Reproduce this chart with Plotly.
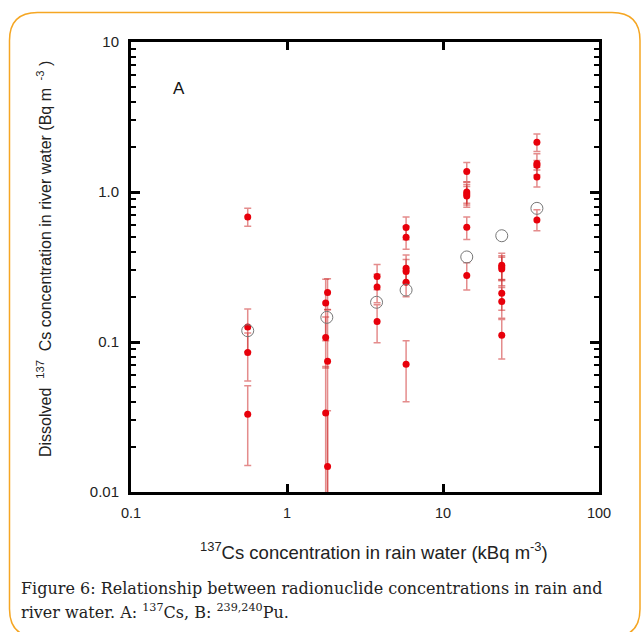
import plotly.graph_objects as go

# ---- data ----
rain_cs = [0.56, 0.56, 0.56, 0.56,
           1.82, 1.77, 1.77, 1.82, 1.77, 1.82,
           3.78, 3.78, 3.78,
           5.8, 5.8, 5.8, 5.8, 5.8, 5.8,
           14.2, 14.2, 14.2, 14.2, 14.2, 14.2,
           23.8, 23.8, 23.8, 23.8, 23.8, 23.8,
           40.0, 40.0, 40.0, 40.0, 40.0]
river_cs = [0.68, 0.126, 0.085, 0.033,
            0.214, 0.182, 0.107, 0.0744, 0.0336, 0.0148,
            0.273, 0.233, 0.137,
            0.58, 0.50, 0.31, 0.295, 0.25, 0.071,
            1.37, 1.0, 0.97, 0.94, 0.582, 0.278,
            0.325, 0.316, 0.307, 0.211, 0.186, 0.111,
            2.15, 1.55, 1.51, 1.26, 0.651]
err_plus = [0.10, 0.04, 0.03, 0.018,
            0.05, 0.08, 0.04, 0.09, 0.035, 0.02,
            0.055, 0.05, 0.04,
            0.10, 0.09, 0.07, 0.06, 0.05, 0.031,
            0.20, 0.16, 0.15, 0.15, 0.10, 0.06,
            0.065, 0.06, 0.06, 0.05, 0.045, 0.03,
            0.29, 0.25, 0.11, 0.20, 0.11]
err_minus = [0.09, 0.04, 0.03, 0.018,
             0.05, 0.08, 0.04, 0.09, 0.04, 0.02,
             0.05, 0.05, 0.038,
             0.10, 0.085, 0.06, 0.05, 0.05, 0.031,
             0.20, 0.16, 0.15, 0.15, 0.10, 0.056,
             0.065, 0.06, 0.07, 0.048, 0.042, 0.034,
             0.29, 0.25, 0.11, 0.18, 0.10]
mean_rain = [0.56, 1.8, 3.75, 5.8, 14.2, 23.8, 40.0]
mean_river = [0.119, 0.146, 0.184, 0.222, 0.369, 0.511, 0.778]

x_tickvals = [0.1, 1, 10, 100]
x_ticktext = ["0.1", "1", "10", "100"]
y_tickvals = [0.01, 0.1, 1, 10]
y_ticktext = ["0.01", "0.1", "1.0", "10"]
y_minor = [m * d for d in (0.01, 0.1, 1) for m in range(2, 10)]

# ---- layout geometry ----
W, H = 642, 632
L, R, T, B = 131, 43, 42, 140
PW, PH = W - L - R, H - T - B


def fx(px):
    return (px - L) / PW


def fy(py):
    return (H - B - py) / PH


fig = go.Figure()
fig.add_trace(go.Scatter(
    x=rain_cs, y=river_cs, mode="markers",
    marker=dict(color="#e8000b", size=7),
    error_y=dict(type="data", symmetric=False, array=err_plus, arrayminus=err_minus,
                 color="rgba(205,45,45,0.55)", thickness=1.5, width=3.5),
    showlegend=False, cliponaxis=True,
))
fig.add_trace(go.Scatter(
    x=mean_rain, y=mean_river, mode="markers",
    marker=dict(symbol="circle-open", color="#777777", size=12, line=dict(width=1)),
    showlegend=False,
))

sans = "Liberation Sans, Arial, sans-serif"
fig.update_xaxes(
    type="log", range=[-1, 2], tickvals=x_tickvals, ticktext=x_ticktext,
    ticks="inside", ticklen=8, tickwidth=2.5, tickcolor="black",
    showline=True, linewidth=3, linecolor="black", mirror="ticks",
    showgrid=False, zeroline=False, ticklabelstandoff=6,
    tickfont=dict(family=sans, size=14.5, color="#222222"),
)
fig.update_yaxes(
    type="log", range=[-2, 1], tickvals=y_tickvals, ticktext=y_ticktext,
    ticks="inside", ticklen=9, tickwidth=2.5, tickcolor="black",
    showline=True, linewidth=3, linecolor="black", mirror="ticks",
    showgrid=False, zeroline=False, ticklabelstandoff=6,
    tickfont=dict(family=sans, size=15, color="#222222"),
    minor=dict(tickmode="array", tickvals=y_minor, ticks="inside", ticklen=5,
               tickwidth=2, tickcolor="black", showgrid=False),
)

cap_font = dict(family="DejaVu Serif, serif", size=16, color="#222222")

r = 28
x0, x1, y0, y1 = 9.5, 640, 12.5, 637
pts = [("M", x0 + r, y0), ("L", x1 - r, y0), ("Q", x1, y0, x1, y0 + r),
       ("L", x1, y1 - r), ("Q", x1, y1, x1 - r, y1), ("L", x0 + r, y1),
       ("Q", x0, y1, x0, y1 - r), ("L", x0, y0 + r), ("Q", x0, y0, x0 + r, y0)]
path = ""
for p in pts:
    cmd, coords = p[0], p[1:]
    parts = []
    for i in range(0, len(coords), 2):
        parts.append(f"{fx(coords[i]):.5f},{fy(coords[i + 1]):.5f}")
    path += cmd + " " + " ".join(parts) + " "
path += "Z"

fig.update_layout(
    width=W, height=H, margin=dict(l=L, r=R, t=T, b=B),
    plot_bgcolor="white", paper_bgcolor="white",
    shapes=[dict(type="path", xref="paper", yref="paper", path=path,
                 line=dict(color="#f5a623", width=1.5), layer="below")],
    annotations=[
        dict(text="A", x=fx(179), y=fy(88), xref="paper", yref="paper",
             xanchor="center", yanchor="middle", showarrow=False,
             font=dict(family=sans, size=17, color="#111111")),
        dict(text="<sup>137</sup>Cs concentration in rain water (kBq m<sup>-3</sup>)",
             x=fx(374), y=fy(551), xref="paper", yref="paper", showarrow=False,
             xanchor="center", yanchor="middle",
             font=dict(family=sans, size=18.5, color="#222222")),
        dict(text="Dissolved&nbsp; <sup>137</sup>&nbsp; Cs concentration in river water (Bq m&nbsp;<sup> -3</sup> )",
             x=fx(44), y=fy(259), xref="paper", yref="paper", showarrow=False,
             xanchor="center", yanchor="middle", textangle=-90,
             font=dict(family=sans, size=16, color="#222222")),
        dict(text="Figure 6: Relationship between radionuclide concentrations in rain and",
             x=fx(19), y=fy(588), xref="paper", yref="paper", showarrow=False,
             xanchor="left", yanchor="middle", font=cap_font),
        dict(text="river water. A: <sup>137</sup>Cs, B: <sup>239,240</sup>Pu.",
             x=fx(19), y=fy(611), xref="paper", yref="paper", showarrow=False,
             xanchor="left", yanchor="middle", font=cap_font),
    ],
)

fig.write_html("out.html")
